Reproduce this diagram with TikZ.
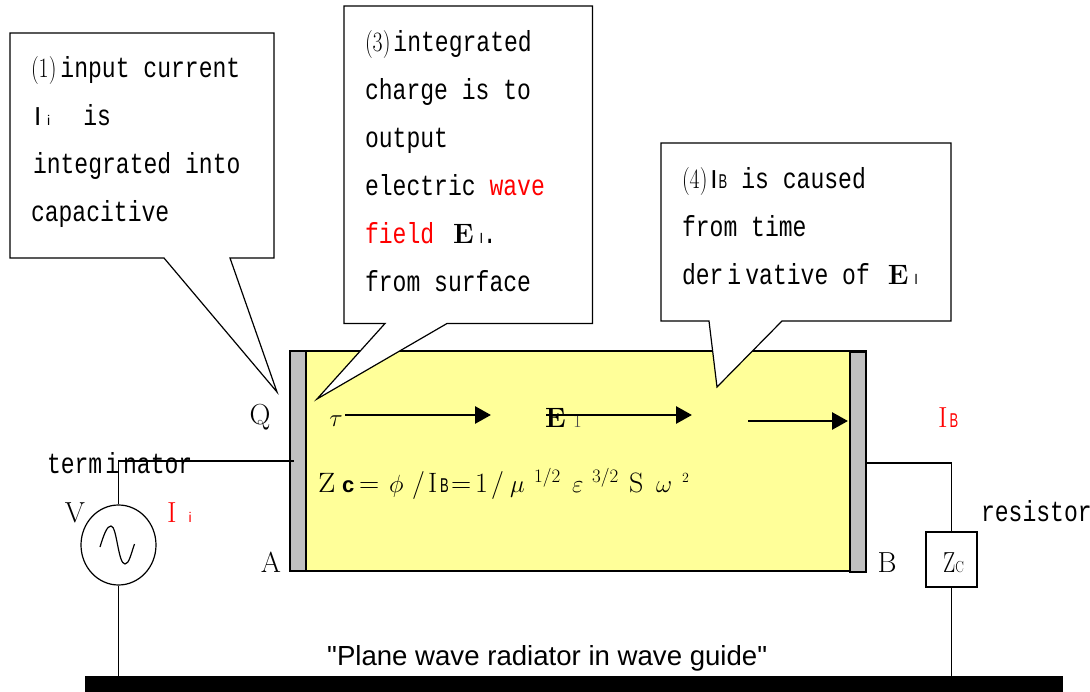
\documentclass[tikz,border=0pt]{standalone}
\usepackage{fontspec}
\usetikzlibrary{arrows.meta,shapes.geometric}
\newfontfamily\gothic[FakeStretch=0.795]{Liberation Mono}
\newfontfamily\arial{Liberation Sans}
\newcommand{\gt}{\fontsize{29}{48}\selectfont\gothic}
\newcommand{\smallsans}[2]{{\fontsize{#1}{#1}\selectfont\arial #2}}
\newcommand{\narrowB}{\scalebox{.65}[1]{\smallsans{20}{B}}}
\newcommand{\bigE}{{\fontsize{28}{28}\selectfont\rmfamily\bfseries E}}
\newcommand{\pnum}[1]{\scalebox{.78}[1]{\fontsize{28}{28}\selectfont\rmfamily (#1)}}
\newcommand{\fat}[2]{\makebox[0pt][l]{\kern#1pt #2}}
\newcommand{\supf}[1]{\raisebox{10pt}{\fontsize{19}{19}\selectfont #1}}
\definecolor{guidefill}{HTML}{FFFF99}
\definecolor{plategray}{HTML}{C0C0C0}
\tikzset{
  ln/.style={draw=black,line width=1.2pt},
  callout/.style={ln,fill=white,line join=miter},
  plate/.style={ln,fill=plategray,inner sep=0pt,minimum width=16pt,minimum height=220pt},
  guide/.style={ln,fill=guidefill,inner sep=0pt,minimum width=576pt,minimum height=220pt},
  wire/.style={draw=black,line width=1.1pt},
  fieldarrow/.style={draw=black,line width=2.8pt,-{Triangle[length=16pt,width=17pt]}},
  txt/.style={inner sep=0pt,outer sep=0pt,anchor=base west,font=\gt},
  block/.style={inner sep=0pt,outer sep=0pt,anchor=north west,align=left,font=\gt},
  lbl/.style={inner sep=0pt,outer sep=0pt,anchor=base,font=\fontsize{29}{29}\selectfont\rmfamily},
}
\begin{document}
\begin{tikzpicture}[x=1pt,y=-1pt]
\useasboundingbox (0,0) rectangle (1090,692);
% guide body and plates
\node[guide] (body) at (578,461) {};
\node[plate] (plateL) at (298,461) {};
\node[plate] (plateR) at (858,462) {};
% ground
\node[fill=black,inner sep=0pt,minimum width=978pt,minimum height=16pt] (ground) at (574,684) {};
% source
\node[ellipse,draw=black,line width=1.2pt,inner sep=0pt,minimum width=75pt,minimum height=80pt] (source) at (118.5,545) {};
\draw[line width=1.2pt] (100,547) .. controls (104,534) and (107,526) .. (111,526) .. controls (117,526) and (118,564) .. (125,564) .. controls (129,564) and (131,554) .. (134.5,544);
% resistor
\node[draw=black,line width=1.2pt,inner sep=0pt,minimum width=51pt,minimum height=55pt] (zc) at (951.5,559.5) {};
\node[inner sep=0pt,anchor=base west,font=\rmfamily] (zclabel) at (943,572) {\scalebox{.75}[1]{\fontsize{29}{29}\selectfont Z}\scalebox{.8}[1]{\fontsize{16}{16}\selectfont C}};
% wires
\coordinate (tL) at (294,461);
\coordinate (tR) at (866,463);
\draw[wire] (source.north) |- (tL);
\draw[wire] (source.south) -- (source.south |- ground.north);
\draw[wire] (tR) -| (zc.north);
\draw[wire] (zc.south) -- (zc.south |- ground.north);
% arrows
\coordinate (a1s) at (345,415); \coordinate (a1e) at (491,415);
\coordinate (a2s) at (546,415); \coordinate (a2e) at (692,415);
\coordinate (a3s) at (748,421); \coordinate (a3e) at (848,421);
% field label beneath arrow 2
\node[inner sep=0pt,anchor=base west] (efield) at (545,428) {\bigE};
\node[inner sep=0pt,anchor=base west,font=\fontsize{19}{19}\selectfont\rmfamily,text=black!70] (eone) at (573,428) {1};
\draw[fieldarrow] (a1s) -- (a1e);
\draw[fieldarrow] (a2s) -- (a2e);
\draw[fieldarrow] (a3s) -- (a3e);
% callouts
\draw[callout] (10,33) -- (274,33) -- (274,258) -- (230,258) -- (277,392) -- (164,258) -- (10,258) -- cycle;
\draw[callout] (344,6) -- (592.5,6) -- (592.5,323.5) -- (447,323.5) -- (317,399) -- (385,323.5) -- (344,323.5) -- cycle;
\draw[callout] (661,143) -- (951,143) -- (951,321) -- (782,321) -- (717,387) -- (709,321) -- (661,321) -- cycle;
% callout text
\node[block] (c1) at (31,56) {\pnum{1}\kern4pt input current\\\kern3pt\smallsans{26}{I}\kern6pt\smallsans{14}{i}\kern33pt is\\\kern2pt integrated into\\capacitive};
\node[block] (c3) at (365,30) {\pnum{3}\kern3pt integrated\\charge is to\\output\\electric \textcolor{red}{wave}\\\textcolor{red}{field}\kern19pt\bigE\kern6pt\smallsans{14}{l}.\\from surface};
\node[block] (c4) at (682,167) {\pnum{4}\kern3pt\smallsans{26}{I}\kern1pt\narrowB\kern14pt is caused\\from time\\der\kern4pt i\kern4pt vative of\kern18pt\bigE\kern6pt\smallsans{14}{l}};
% labels
\node[lbl] (q) at (260,425) {Q};
\node[lbl] (a) at (271,572) {A};
\node[lbl] (b) at (887,572) {B};
\node[lbl] (v) at (75,522) {V};
\node[lbl] (tau) at (336,427) {$\tau$};
\node[lbl,anchor=base west,text=red] (ii) at (167,522) {I\kern12pt\smallsans{14}{i}};
\node[lbl,anchor=base west,text=red] (ib) at (938,428) {I\kern2pt\narrowB};
\node[txt] (term) at (47,474) {term\kern3pt i\kern4pt nator};
\node[txt] (res) at (981,521) {resistor};
\node[inner sep=0pt,anchor=base west,font=\fontsize{27.6}{27.6}\selectfont\arial] (cap) at (327,665) {"Plane wave radiator in wave guide"};
\node[inner sep=0pt,anchor=base west,font=\fontsize{28}{28}\selectfont\rmfamily] (formula) at (318,493) {%
\fat{0}{\scalebox{1.1}[1]{Z}}\fat{24}{\smallsans{22}{\bfseries c}}\fat{41}{=}\fat{71}{$\phi$}\fat{94}{/}\fat{110}{I}\fat{122}{\narrowB}\fat{133}{=}\fat{157}{1}\fat{173}{/}\fat{192}{$\mu$}\fat{216}{\supf{1/2}}\fat{254}{$\varepsilon$}\fat{274}{\supf{3/2}}\fat{311}{S}\fat{338}{$\omega$}\fat{364}{\supf{\fontsize{14}{14}\selectfont 2}}\phantom{Z}};
\end{tikzpicture}
\end{document}
